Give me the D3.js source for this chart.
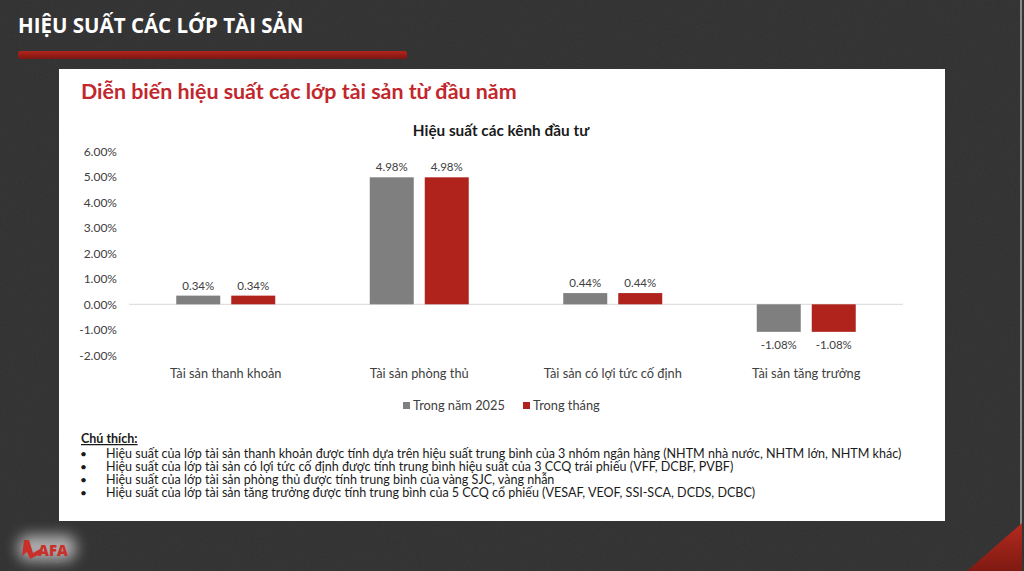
<!DOCTYPE html>
<html><head><meta charset="utf-8">
<script src="https://cdn.jsdelivr.net/npm/d3@7"></script>
<style>
html,body{margin:0;padding:0;background:#2f2f2f;overflow:hidden}
svg{display:block}
</style></head>
<body><svg id="c" width="1024" height="571"></svg>
<script>
const categories = ["Tài sản thanh khoản", "Tài sản phòng thủ", "Tài sản có lợi tức cố định", "Tài sản tăng trưởng"];
const seriesNames = ["Trong năm 2025", "Trong tháng"];
const yearValues = [0.34, 4.98, 0.44, -1.08];
const monthValues = [0.34, 4.98, 0.44, -1.08];
const yTicks = [-2, -1, 0, 1, 2, 3, 4, 5, 6];
const pageTitle = "HIỆU SUẤT CÁC LỚP TÀI SẢN";
const subTitle = "Diễn biến hiệu suất các lớp tài sản từ đầu năm";
const chartTitle = "Hiệu suất các kênh đầu tư";
const noteTitle = "Chú thích:";
const notes = [
  "Hiệu suất của lớp tài sản thanh khoản được tính dựa trên hiệu suất trung bình của 3 nhóm ngân hàng (NHTM nhà nước, NHTM lớn, NHTM khác)",
  "Hiệu suất của lớp tài sản có lợi tức cố định được tính trung bình hiệu suất của 3 CCQ trái phiếu (VFF, DCBF, PVBF)",
  "Hiệu suất của lớp tài sản phòng thủ được tính trung bình của vàng SJC, vàng nhẫn",
  "Hiệu suất của lớp tài sản tăng trưởng được tính trung bình của 5 CCQ cổ phiếu (VESAF, VEOF, SSI-SCA, DCDS, DCBC)"
];

const colors = ["#7f7f7f", "#b0231d"];
const FONT = "Lato, 'Noto Sans', sans-serif";
const svg = d3.select("#c");
const defs = svg.append("defs");

// background texture
const noise = defs.append("filter").attr("id", "noise").attr("x", 0).attr("y", 0).attr("width", "100%").attr("height", "100%");
noise.append("feTurbulence").attr("type", "fractalNoise").attr("baseFrequency", 0.9).attr("numOctaves", 2).attr("result", "n");
noise.append("feColorMatrix").attr("type", "matrix").attr("values", "0 0 0 0 1  0 0 0 0 1  0 0 0 0 1  0 0 0 0.05 0");
svg.append("rect").attr("width", 1024).attr("height", 571).attr("fill", "#2f2f2f");
svg.append("rect").attr("width", 1024).attr("height", 571).attr("filter", "url(#noise)");

// right slide edge
svg.append("rect").attr("x", 1020).attr("y", 0).attr("width", 2).attr("height", 571).attr("fill", "#8a8a8a");

// red corner triangle
const tg = defs.append("linearGradient").attr("id", "tg").attr("x1", 0).attr("y1", 0).attr("x2", 0).attr("y2", 1);
tg.append("stop").attr("offset", 0).attr("stop-color", "#b52a1e");
tg.append("stop").attr("offset", 1).attr("stop-color", "#7e1a12");
svg.append("path").attr("d", "M1022,523 L1022,571 L967,571 Z").attr("fill", "url(#tg)");

// page title
svg.append("text").attr("x", 18).attr("y", 33).attr("fill", "#ffffff")
  .attr("font-family", "'Open Sans', sans-serif").attr("font-weight", 700).attr("font-size", 20.5)
  .text(pageTitle);
const bg = defs.append("linearGradient").attr("id", "bg").attr("x1", 0).attr("y1", 0).attr("x2", 0).attr("y2", 1);
bg.append("stop").attr("offset", 0).attr("stop-color", "#b4251d");
bg.append("stop").attr("offset", 1).attr("stop-color", "#7a1711");
svg.append("rect").attr("x", 18).attr("y", 51).attr("width", 389).attr("height", 8).attr("rx", 2.5).attr("fill", "url(#bg)");

// white panel
svg.append("rect").attr("x", 59).attr("y", 69).attr("width", 886).attr("height", 452).attr("fill", "#ffffff");

// subtitle
svg.append("text").attr("x", 81).attr("y", 99).attr("fill", "#c1272d")
  .attr("font-family", FONT).attr("font-weight", 700).attr("font-size", 21.4)
  .text(subTitle);

// chart title
svg.append("text").attr("x", 501).attr("y", 136).attr("text-anchor", "middle").attr("fill", "#1a1a1a")
  .attr("font-family", FONT).attr("font-weight", 700).attr("font-size", 15.3)
  .text(chartTitle);

// scales
const y = d3.scaleLinear().domain([-2, 6]).range([355.3, 151.3]);
const x0 = d3.scaleBand().domain(categories).range([129, 903]).paddingInner(0.4884).paddingOuter(0.2442);
const x1 = d3.scaleBand().domain(seriesNames).range([0, x0.bandwidth()]).paddingInner(0.2);

// y axis
const yAxis = d3.axisLeft(y).tickValues(yTicks).tickFormat(d => d.toFixed(2) + "%").tickSize(0).tickPadding(0);
const ga = svg.append("g").attr("transform", "translate(117,0)").call(yAxis);
ga.select(".domain").remove();
ga.selectAll("text").attr("font-family", FONT).attr("font-size", 12).attr("fill", "#404040");

// zero line
svg.append("line").attr("x1", 129).attr("x2", 903).attr("y1", y(0)).attr("y2", y(0))
  .attr("stroke", "#d9d9d9").attr("stroke-width", 1);

// bars
const rows = categories.map((c, i) => ({ cat: c, vals: [yearValues[i], monthValues[i]] }));
const grp = svg.append("g").selectAll("g").data(rows).join("g")
  .attr("transform", d => `translate(${x0(d.cat)},0)`);
const cells = grp.selectAll("g").data(d => d.vals.map((v, k) => ({ v, k, s: seriesNames[k] }))).join("g");
cells.append("rect")
  .attr("x", d => x1(d.s)).attr("width", x1.bandwidth())
  .attr("y", d => y(Math.max(0, d.v))).attr("height", d => Math.abs(y(d.v) - y(0)))
  .attr("fill", d => colors[d.k]);
cells.append("text")
  .attr("x", d => x1(d.s) + x1.bandwidth() / 2)
  .attr("y", d => d.v >= 0 ? y(d.v) - 6 : y(d.v) + 17)
  .attr("text-anchor", "middle").attr("font-family", FONT).attr("font-size", 11.5).attr("fill", "#404040")
  .text(d => d.v.toFixed(2) + "%");

// category labels
svg.append("g").selectAll("text").data(categories).join("text")
  .attr("x", d => x0(d) + x0.bandwidth() / 2).attr("y", 378)
  .attr("text-anchor", "middle").attr("font-family", FONT).attr("font-size", 12.8).attr("fill", "#404040")
  .text(d => d);

// legend
const legX = [403, 523];
const lg = svg.append("g").selectAll("g").data(seriesNames).join("g")
  .attr("transform", (d, i) => `translate(${legX[i]},0)`);
lg.append("rect").attr("x", 0).attr("y", 402).attr("width", 7).attr("height", 7).attr("fill", (d, i) => colors[i]);
lg.append("text").attr("x", 10).attr("y", 410).attr("font-family", FONT).attr("font-size", 12.8).attr("fill", "#404040").text(d => d);

// notes
svg.append("text").attr("x", 81).attr("y", 443).attr("font-family", FONT).attr("font-weight", 700)
  .attr("font-size", 12.5).attr("fill", "#1a1a1a").attr("text-decoration", "underline").text(noteTitle);
const ng = svg.append("g").selectAll("g").data(notes).join("g")
  .attr("transform", (d, i) => `translate(0,${458 + i * 13})`);
ng.append("text").attr("x", 80).attr("y", 0).attr("font-family", FONT).attr("font-size", 12).attr("fill", "#1a1a1a").text("•");
ng.append("text").attr("x", 106).attr("y", 0).attr("font-family", FONT).attr("font-size", 12.55).attr("fill", "#1a1a1a").text(d => d);

// logo
const glow = defs.append("filter").attr("id", "glow").attr("x", "-50%").attr("y", "-50%").attr("width", "200%").attr("height", "200%");
glow.append("feGaussianBlur").attr("stdDeviation", 7);
svg.append("rect").attr("x", 18).attr("y", 535).attr("width", 58).attr("height", 26).attr("rx", 10)
  .attr("fill", "#ffffff").attr("opacity", 0.6).attr("filter", "url(#glow)");
svg.append("path").attr("d", "M24,540 L29,540 L33,553 L40,549 L42,553 L30,559 L27,552 L22,556 Z").attr("fill", "#c8312b");
svg.append("text").attr("x", 38).attr("y", 556).attr("font-family", "'Open Sans', sans-serif").attr("font-weight", 800)
  .attr("font-size", 15).attr("fill", "#c8312b").text("AFA");
svg.append("text").attr("x", 41).attr("y", 563).attr("font-family", FONT).attr("font-size", 3.5)
  .attr("letter-spacing", 1).attr("fill", "#777").text("CAPITAL");
</script></body></html>
